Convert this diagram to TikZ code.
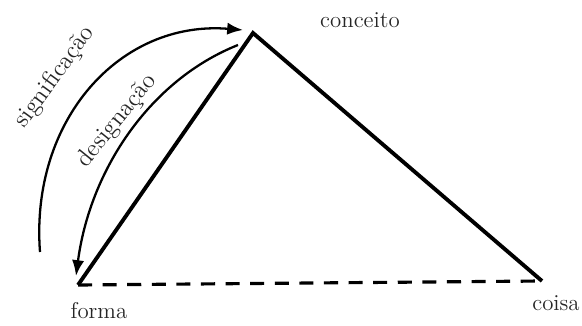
\documentclass[tikz,border=0pt]{standalone}
\usetikzlibrary{arrows.meta}
\begin{document}
\begin{tikzpicture}[
    x=0.02cm, y=-0.02cm,
    side/.style={line width=2.2pt, line join=miter},
    open/.style={line width=1.8pt, dash pattern=on 8pt off 6pt},
    relation/.style={line width=1.3pt, -{Latex[length=9pt, width=7pt]}},
    vlabel/.style={font=\fontsize{13}{15}\selectfont, text=black!85},
    rlabel/.style={font=\fontsize{14}{16}\selectfont, text=black!85}
  ]
  \useasboundingbox (0,0) rectangle (582,325);

  % Vertices of the triangle
  \coordinate (apex) at (253,33);
  \coordinate (form) at (78,285);
  \coordinate (thing) at (542,281);

  % Vertex labels
  \node[vlabel] (conceito) at (360,20) {conceito};
  \node[vlabel] (forma) at (99,311) {forma};
  \node[vlabel] (coisa) at (556,303) {coisa};

  % Triangle
  \draw[side] (form) -- (apex) -- (thing);
  \draw[open] (form) -- (thing);

  % Relations
  \coordinate (sigstart) at (40,252);
  \coordinate (sigend) at (243,30);
  \coordinate (desstart) at (238,45);
  \coordinate (desend) at (76,276);
  \draw[relation] (sigstart) .. controls (30,120) and (120,20) .. (sigend);
  \draw[relation] (desstart) .. controls (150,80) and (90,170) .. (desend);

  % Relation labels
  \node[rlabel, rotate=54] (signif) at (55,77) {significação};
  \node[rlabel, rotate=51] (desig) at (117,121) {designação};

\end{tikzpicture}
\end{document}
